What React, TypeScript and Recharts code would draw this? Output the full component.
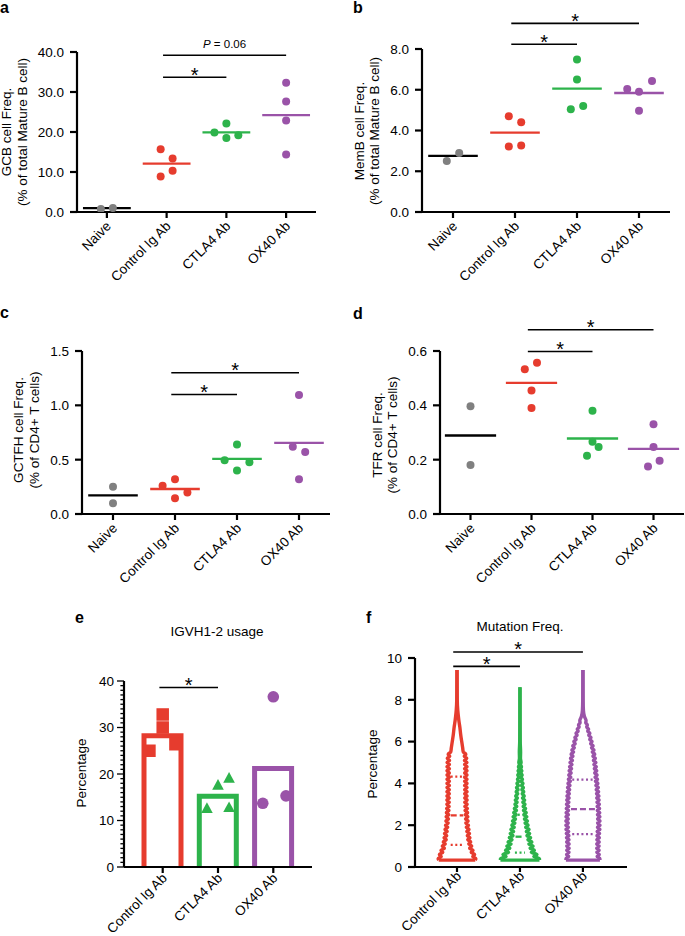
import React from 'react';
import { ComposedChart, Scatter, XAxis, YAxis, ReferenceLine, ReferenceDot, Bar, Area } from 'recharts';

const FONT = '"Liberation Sans", Arial, Helvetica, sans-serif';
const RED = '#e63c2e';
const GREEN = '#2db34b';
const PURPLE = '#9a53a8';
const GRAY = '#808080';

// ---------- categories ----------
const groups4 = ['Naive', 'Control Ig Ab', 'CTLA4 Ab', 'OX40 Ab'];
const groups3 = ['Control Ig Ab', 'CTLA4 Ab', 'OX40 Ab'];

// ---------- panel a : GCB ----------
const gcbNaive = [0.75, 1.0];
const gcbControl = [15.7, 13.4, 10.3, 8.85];
const gcbCtla4 = [19.9, 22.1, 18.5, 19.2];
const gcbOx40 = [32.3, 27.6, 22.9, 14.4];
const gcbMeans = [0.95, 12.1, 19.9, 24.2];
const gcbTicks = [0, 10, 20, 30, 40];
const gcbSig = [
  { from: 1, to: 2, y: 33.7, label: '*' },
  { from: 1, to: 3, y: 39.2, label: 'P = 0.06' },
];

// ---------- panel b : MemB ----------
const membNaive = [2.5, 2.9];
const membControl = [4.7, 4.4, 3.22, 3.26];
const membCtla4 = [7.48, 6.5, 5.04, 5.2];
const membOx40 = [6.04, 5.9, 6.43, 4.97];
const membMeans = [2.75, 3.9, 6.06, 5.84];
const membTicks = [0, 2, 4, 6, 8];
const membSig = [
  { from: 1, to: 2, y: 8.23, label: '*' },
  { from: 1, to: 3, y: 9.26, label: '*' },
];

// ---------- panel c : GCTFH ----------
const gctfhNaive = [0.25, 0.1];
const gctfhControl = [0.26, 0.32, 0.145, 0.197];
const gctfhCtla4 = [0.495, 0.64, 0.4, 0.477];
const gctfhOx40 = [1.094, 0.62, 0.57, 0.32];
const gctfhMeans = [0.172, 0.23, 0.507, 0.655];
const gctfhTicks = [0, 0.5, 1.0, 1.5];
const gctfhSig = [
  { from: 1, to: 2, y: 1.1, label: '*' },
  { from: 1, to: 3, y: 1.3, label: '*' },
];

// ---------- panel d : TFR ----------
const tfrNaive = [0.397, 0.18];
const tfrControl = [0.533, 0.557, 0.455, 0.39];
const tfrCtla4 = [0.38, 0.266, 0.247, 0.214];
const tfrOx40 = [0.33, 0.247, 0.196, 0.175];
const tfrMeans = [0.289, 0.483, 0.278, 0.24];
const tfrTicks = [0, 0.2, 0.4, 0.6];
const tfrSig = [
  { from: 1, to: 2, y: 0.598, label: '*' },
  { from: 1, to: 3, y: 0.678, label: '*' },
];

// ---------- panel e : IGVH1-2 usage ----------
const usageBars = [28.2, 15.2, 21.2];
const usageControl = [32.8, 30.0, 26.4, 25.0];
const usageCtla4 = [12.7, 17.7, 19.2, 12.9];
const usageOx40 = [36.6, 13.7, 15.3];
const usageTicks = [0, 10, 20, 30, 40];
const usageSig = [{ from: 0, to: 1, y: 38.6, label: '*' }];

// ---------- panel f : Mutation frequency (violin profiles: [percentage, half width]) ----------
const violinControl = [
  [0.33, 0.29], [0.4, 0.3], [0.5, 0.25], [0.6, 0.28], [0.7, 0.225], [0.8, 0.255], [0.9, 0.2], [1.0, 0.234],
  [1.1, 0.186], [1.2, 0.218], [1.3, 0.17], [1.4, 0.206], [1.5, 0.163], [1.6, 0.199], [1.7, 0.155], [1.8, 0.191],
  [1.9, 0.147], [2.0, 0.183], [2.1, 0.139], [2.2, 0.177], [2.3, 0.135], [2.4, 0.173], [2.5, 0.131], [2.6, 0.169],
  [2.7, 0.127], [2.8, 0.165], [2.9, 0.124], [3.0, 0.162], [3.1, 0.122], [3.2, 0.162], [3.3, 0.122], [3.4, 0.161],
  [3.5, 0.121], [3.6, 0.161], [3.7, 0.121], [3.8, 0.16], [3.9, 0.12], [4.0, 0.16], [4.1, 0.12], [4.2, 0.16],
  [4.3, 0.12], [4.4, 0.16], [4.5, 0.12], [4.6, 0.16], [4.7, 0.12], [4.8, 0.16], [4.9, 0.12], [5.0, 0.158],
  [5.1, 0.118], [5.2, 0.155], [5.3, 0.115], [5.4, 0.14], [5.5, 0.1], [5.7, 0.09], [6.0, 0.075], [6.3, 0.06],
  [6.7, 0.045], [7.0, 0.03], [7.2, 0.022], [7.5, 0.012], [8.0, 0.004], [9.43, 0],
];
const violinCtla4 = [
  [0.33, 0.31], [0.4, 0.31], [0.5, 0.22], [0.6, 0.27], [0.7, 0.18], [0.8, 0.23], [0.9, 0.16], [1.0, 0.21],
  [1.1, 0.14], [1.2, 0.19], [1.3, 0.125], [1.4, 0.17], [1.5, 0.11], [1.6, 0.155], [1.7, 0.1], [1.8, 0.145],
  [1.9, 0.09], [2.0, 0.13], [2.1, 0.08], [2.2, 0.12], [2.3, 0.07], [2.4, 0.11], [2.5, 0.06], [2.6, 0.1],
  [2.7, 0.055], [2.8, 0.09], [2.9, 0.05], [3.0, 0.08], [3.1, 0.045], [3.2, 0.075], [3.3, 0.04], [3.4, 0.068],
  [3.5, 0.035], [3.6, 0.06], [3.7, 0.03], [3.8, 0.055], [3.9, 0.025], [4.0, 0.048], [4.1, 0.02], [4.2, 0.04],
  [4.3, 0.015], [4.4, 0.035], [4.5, 0.012], [4.6, 0.03], [4.7, 0.01], [4.8, 0.024], [4.9, 0.008], [5.0, 0.018],
  [5.2, 0.008], [5.5, 0.01], [6.0, 0.004], [7.0, 0.002], [8.6, 0],
];
const violinOx40 = [
  [0.33, 0.27], [0.4, 0.27], [0.5, 0.225], [0.6, 0.26], [0.7, 0.22], [0.8, 0.258], [0.9, 0.218], [1.0, 0.258],
  [1.1, 0.218], [1.2, 0.26], [1.3, 0.22], [1.4, 0.262], [1.5, 0.222], [1.6, 0.265], [1.7, 0.225], [1.8, 0.27],
  [1.9, 0.23], [2.0, 0.272], [2.1, 0.232], [2.2, 0.272], [2.3, 0.232], [2.4, 0.27], [2.5, 0.23], [2.6, 0.268],
  [2.7, 0.228], [2.8, 0.265], [2.9, 0.225], [3.0, 0.262], [3.1, 0.222], [3.2, 0.258], [3.3, 0.218], [3.4, 0.255],
  [3.5, 0.215], [3.6, 0.25], [3.7, 0.21], [3.8, 0.245], [3.9, 0.205], [4.0, 0.238], [4.1, 0.198], [4.2, 0.232],
  [4.3, 0.192], [4.4, 0.226], [4.5, 0.186], [4.6, 0.22], [4.7, 0.18], [4.8, 0.213], [4.9, 0.173], [5.0, 0.206],
  [5.1, 0.166], [5.2, 0.198], [5.3, 0.158], [5.4, 0.188], [5.5, 0.148], [5.6, 0.176], [5.7, 0.136], [5.8, 0.162],
  [5.9, 0.122], [6.0, 0.145], [6.1, 0.108], [6.2, 0.128], [6.3, 0.092], [6.4, 0.11], [6.5, 0.076], [6.6, 0.09],
  [6.7, 0.06], [6.8, 0.07], [6.9, 0.045], [7.0, 0.05], [7.2, 0.024], [7.5, 0.008], [8.0, 0.003], [9.43, 0],
];
// quartiles: [lower, median, upper] and the half width of each drawn line
const quartControl = [1.06, 2.47, 4.32];
const quartCtla4 = [0.69, 1.45, 2.5];
const quartOx40 = [1.57, 2.77, 4.18];
const quartHalfControl = [0.1, 0.1, 0.1];
const quartHalfCtla4 = [0.08, 0.07, 0.035];
const quartHalfOx40 = [0.17, 0.19, 0.17];
const mutTicks = [0, 2, 4, 6, 8, 10];
const mutSig = [
  { from: 0, to: 1, y: 9.6, label: '*' },
  { from: 0, to: 2, y: 10.29, label: '*' },
];

// ---------- layout / style constants ----------
const AXIS = { stroke: '#000', strokeWidth: 2.2 };
const colors4 = [GRAY, RED, GREEN, PURPLE];
const meanColors4 = ['#000', RED, GREEN, PURPLE];
const colors3 = [RED, GREEN, PURPLE];
const jitterA = [[-0.1, 0.1], [-0.1, 0.1, 0.1, -0.1], [-0.2, 0, 0, 0.2], [0, 0, 0, 0]];
const jitterB = [[-0.1, 0.1], [-0.1, 0.1, -0.1, 0.1], [0, 0, -0.1, 0.1], [-0.19, 0, 0.21, 0]];
const jitterC = [[0, 0], [-0.2, 0, 0, 0.2], [-0.2, 0, 0, 0.2], [0, -0.1, 0.1, 0]];
const jitterD = [[0, 0], [-0.11, 0.09, 0, 0], [0, 0, 0.1, -0.09], [0, 0, 0.1, -0.09]];
const jitterE = [[0, 0, 0.23, -0.24], [-0.2, 0, 0.2, 0.2], [0, -0.19, 0.23]];
const E_BAR_WIDTH = 37;

const XTick = (props: any) => {
  const { x, y, payload, labels, dy = 9 } = props;
  const ax = x + 5;
  const ay = y + dy;
  return (
    <text x={ax} y={ay} transform={`rotate(-45 ${ax} ${ay})`} textAnchor="end" fontSize={13.5} fontFamily={FONT} fill="#000">
      {labels[payload.value]}
    </text>
  );
};

const YTick = (props: any) => {
  const { x, y, payload, digits } = props;
  const v = Number(payload.value);
  return (
    <text x={x - 6} y={y} dy="0.36em" textAnchor="end" fontSize={13.5} fontFamily={FONT} fill="#000">
      {digits != null ? v.toFixed(digits) : String(v)}
    </text>
  );
};

const EYTick = (props: any) => {
  const { x, y, payload } = props;
  const v = Number(payload.value);
  const major = v % 10 === 0;
  return (
    <g>
      <line x1={x} x2={x - (major ? 7 : 3.6)} y1={y} y2={y} stroke="#000" strokeWidth={1.3} />
      {major && (
        <text x={x - 10} y={y} dy="0.36em" textAnchor="end" fontSize={13.5} fontFamily={FONT} fill="#000">
          {v}
        </text>
      )}
    </g>
  );
};

const sigShape = (label: string) => (p: any) => {
  if (label === '*') {
    return (
      <text x={p.cx} y={p.cy + 4.5} textAnchor="middle" fontSize={20} fontFamily={FONT} fill="#000">
        *
      </text>
    );
  }
  const parts = label.split(' ');
  return (
    <text x={p.cx} y={p.cy - 7} textAnchor="middle" fontSize={11.5} fontFamily={FONT} fill="#000">
      <tspan fontStyle="italic">{parts[0]}</tspan>
      {' ' + parts.slice(1).join(' ')}
    </text>
  );
};

const renderSig = (sig: any[], prefix: string) =>
  sig.flatMap((s, i) => [
    <ReferenceLine
      key={prefix + 'l' + i}
      segment={[{ x: s.from - 0.06, y: s.y }, { x: s.to, y: s.y }]}
      stroke="#000"
      strokeWidth={1.6}
      ifOverflow="visible"
    />,
    <ReferenceDot
      key={prefix + 'd' + i}
      x={(s.from - 0.06 + s.to) / 2}
      y={s.y}
      r={0}
      ifOverflow="visible"
      shape={sigShape(s.label)}
    />,
  ]);

const circleShape = (r: number, color: string) => (p: any) => <circle cx={p.cx} cy={p.cy} r={r} fill={color} />;

type DotPanelProps = {
  left: number; top: number; width: number; height: number;
  marginTop: number; marginRight: number; yAxisWidth: number; xAxisHeight: number;
  domain: [number, number]; ticks: number[]; groups: number[][]; means: number[];
  jitter: number[][]; sig: any[]; meanHalf: number;
};

function DotPanel(props: DotPanelProps) {
  const { left, top, width, height, marginTop, marginRight, yAxisWidth, xAxisHeight, domain, ticks, groups, means, jitter, sig, meanHalf } = props;
  const series = groups.map((vals, gi) => vals.map((v, k) => ({ x: gi + jitter[gi][k], y: v })));
  return (
    <div style={{ position: 'absolute', left, top }}>
      <ComposedChart width={width} height={height} margin={{ top: marginTop, right: marginRight, bottom: 0, left: 0 }}>
        <XAxis
          type="number" dataKey="x" domain={[-0.5, 3.5]} ticks={[0, 1, 2, 3]} interval={0} allowDataOverflow
          axisLine={AXIS} tickLine={AXIS} tickSize={6} tickMargin={0} height={xAxisHeight}
          tick={<XTick labels={groups4} />}
        />
        <YAxis
          type="number" dataKey="y" domain={domain} ticks={ticks} interval={0} allowDataOverflow width={yAxisWidth}
          axisLine={AXIS} tickLine={AXIS} tickSize={7} tickMargin={0} tick={<YTick digits={1} />}
        />
        {series.map((pts, gi) => (
          <Scatter key={'s' + gi} data={pts} fill={colors4[gi]} shape={circleShape(4, colors4[gi])} isAnimationActive={false} />
        ))}
        {means.map((m, gi) => (
          <ReferenceLine
            key={'m' + gi}
            segment={[{ x: gi - meanHalf, y: m }, { x: gi + meanHalf, y: m }]}
            stroke={meanColors4[gi]}
            strokeWidth={2.3}
            ifOverflow="visible"
          />
        ))}
        {renderSig(sig, 'g')}
      </ComposedChart>
    </div>
  );
}

function UsagePanel() {
  const barRows = groups3.map((g, i) => ({ x: i, v: usageBars[i], name: g }));
  const sets = [usageControl, usageCtla4, usageOx40].map((vals, gi) => vals.map((v, k) => ({ x: gi + jitterE[gi][k], y: v })));
  const minor = Array.from({ length: 41 }, (_, i) => i);
  const barShape = (p: any) => {
    const { x, y, width, height, index } = p;
    const cx = x + width / 2;
    const l = cx - E_BAR_WIDTH / 2;
    const r = cx + E_BAR_WIDTH / 2;
    return (
      <path
        d={`M${l},${y + height + 2} L${l},${y} L${r},${y} L${r},${y + height + 2}`}
        fill="none"
        stroke={colors3[index]}
        strokeWidth={5}
      />
    );
  };
  const square = (p: any) => <rect x={p.cx - 6.25} y={p.cy - 6.25} width={12.5} height={12.5} fill={RED} />;
  const tri = (p: any) => <path d={`M${p.cx},${p.cy - 5.6} L${p.cx + 5.8},${p.cy + 5} L${p.cx - 5.8},${p.cy + 5} Z`} fill={GREEN} />;
  return (
    <div style={{ position: 'absolute', left: 0, top: 600 }}>
      <ComposedChart width={340} height={336} data={barRows} margin={{ top: 81, right: 28, bottom: 0, left: 0 }}>
        <XAxis
          type="number" dataKey="x" domain={[-0.7, 2.7]} ticks={[0, 1, 2]} interval={0} allowDataOverflow
          axisLine={AXIS} tickLine={AXIS} tickSize={6} tickMargin={0} height={69}
          tick={<XTick labels={groups3} dy={6} />}
        />
        <YAxis
          type="number" dataKey="y" domain={[0, 40]} ticks={minor} interval={0} allowDataOverflow width={124}
          axisLine={AXIS} tickLine={false} tickSize={0} tickMargin={0} tick={<EYTick />}
        />
        <Bar dataKey="v" shape={barShape} isAnimationActive={false} />
        <Scatter data={sets[0]} fill={RED} shape={square} isAnimationActive={false} />
        <Scatter data={sets[1]} fill={GREEN} shape={tri} isAnimationActive={false} />
        <Scatter data={sets[2]} fill={PURPLE} shape={circleShape(5.8, PURPLE)} isAnimationActive={false} />
        {renderSig(usageSig, 'e')}
      </ComposedChart>
    </div>
  );
}

function MutationPanel() {
  const profiles = [violinControl, violinCtla4, violinOx40];
  const quarts = [quartControl, quartCtla4, quartOx40];
  const qHalf = [quartHalfControl, quartHalfCtla4, quartHalfOx40];
  return (
    <div style={{ position: 'absolute', left: 340, top: 600 }}>
      <ComposedChart layout="vertical" width={345} height={336} margin={{ top: 58, right: 58, bottom: 0, left: 0 }}>
        <XAxis
          type="number" domain={[-0.667, 2.7]} ticks={[0, 1, 2]} interval={0} allowDataOverflow
          axisLine={AXIS} tickLine={AXIS} tickSize={5} tickMargin={0} height={69}
          tick={<XTick labels={groups3} dy={5} />}
        />
        <YAxis
          type="number" dataKey="y" domain={[0, 10]} ticks={mutTicks} interval={0} allowDataOverflow width={75} reversed
          axisLine={AXIS} tickLine={AXIS} tickSize={7} tickMargin={0} tick={<YTick />}
        />
        {profiles.map((prof, gi) => (
          <Area
            key={'v' + gi}
            data={prof.map(([y, hw]) => ({ y, r: [gi - hw, gi + hw] }))}
            dataKey="r"
            type="monotone"
            stroke={colors3[gi]}
            strokeWidth={3.4}
            fill="#fff"
            fillOpacity={1}
            dot={false}
            activeDot={false}
            isAnimationActive={false}
          />
        ))}
        {profiles.map((prof, gi) => (
          <ReferenceLine
            key={'b' + gi}
            segment={[{ x: gi - prof[0][1], y: prof[0][0] }, { x: gi + prof[0][1], y: prof[0][0] }]}
            stroke={colors3[gi]}
            strokeWidth={3.4}
            ifOverflow="visible"
          />
        ))}
        {quarts.flatMap((q, gi) =>
          q.map((v, k) => (
            <ReferenceLine
              key={'q' + gi + k}
              segment={[{ x: gi - qHalf[gi][k], y: v }, { x: gi + qHalf[gi][k], y: v }]}
              stroke={colors3[gi]}
              strokeWidth={2.3}
              strokeDasharray={k === 1 ? '6 3' : '2 2.6'}
              ifOverflow="visible"
            />
          ))
        )}
        {renderSig(mutSig, 'f')}
      </ComposedChart>
    </div>
  );
}

function Overlay() {
  const t = { fontFamily: FONT, fill: '#000' };
  const vlabel = (x: number, y: number, s: string, key: string) => (
    <text key={key} x={x} y={y} transform={`rotate(-90 ${x} ${y})`} textAnchor="middle" fontSize={13.5} {...t}>
      {s}
    </text>
  );
  return (
    <svg width={685} height={936} style={{ position: 'absolute', left: 0, top: 0, pointerEvents: 'none' }}>
      <text x={0} y={13} fontSize={16} fontWeight="bold" {...t}>a</text>
      <text x={353} y={13} fontSize={16} fontWeight="bold" {...t}>b</text>
      <text x={0} y={318} fontSize={16} fontWeight="bold" {...t}>c</text>
      <text x={353} y={319} fontSize={16} fontWeight="bold" {...t}>d</text>
      <text x={75} y={623} fontSize={16} fontWeight="bold" {...t}>e</text>
      <text x={366} y={623} fontSize={16} fontWeight="bold" {...t}>f</text>
      {vlabel(11, 132, 'GCB cell Freq.', 'a1')}
      {vlabel(27, 132, '(% of total Mature B cell)', 'a2')}
      {vlabel(364, 131, 'MemB cell Freq.', 'b1')}
      {vlabel(379, 131, '(% of total Mature B cell)', 'b2')}
      {vlabel(23, 430, 'GCTFH cell Freq.', 'c1')}
      {vlabel(39, 430, '(% of CD4+ T cells)', 'c2')}
      {vlabel(382, 435, 'TFR cell Freq.', 'd1')}
      {vlabel(397, 435, '(% of CD4+ T cells)', 'd2')}
      {vlabel(86, 773, 'Percentage', 'e1')}
      {vlabel(377, 764, 'Percentage', 'f1')}
      <text x={217} y={636} textAnchor="middle" fontSize={13.5} {...t}>IGVH1-2 usage</text>
      <text x={520} y={631} textAnchor="middle" fontSize={13.5} {...t}>Mutation Freq.</text>
    </svg>
  );
}

export default function App() {
  return (
    <div style={{ position: 'absolute', left: 0, top: 0, width: 685, height: 936, background: '#fff', fontFamily: FONT }}>
      <DotPanel
        left={0} top={0} width={340} height={300} marginTop={52} marginRight={24} yAxisWidth={77} xAxisHeight={88}
        domain={[0, 40]} ticks={gcbTicks} groups={[gcbNaive, gcbControl, gcbCtla4, gcbOx40]} means={gcbMeans}
        jitter={jitterA} sig={gcbSig} meanHalf={0.4}
      />
      <DotPanel
        left={340} top={0} width={345} height={300} marginTop={49} marginRight={15} yAxisWidth={82} xAxisHeight={88}
        domain={[0, 8]} ticks={membTicks} groups={[membNaive, membControl, membCtla4, membOx40]} means={membMeans}
        jitter={jitterB} sig={membSig} meanHalf={0.4}
      />
      <DotPanel
        left={0} top={300} width={340} height={300} marginTop={51} marginRight={10} yAxisWidth={82} xAxisHeight={86}
        domain={[0, 1.5]} ticks={gctfhTicks} groups={[gctfhNaive, gctfhControl, gctfhCtla4, gctfhOx40]} means={gctfhMeans}
        jitter={jitterC} sig={gctfhSig} meanHalf={0.4}
      />
      <DotPanel
        left={340} top={300} width={345} height={300} marginTop={51} marginRight={1} yAxisWidth={100} xAxisHeight={86}
        domain={[0, 0.6]} ticks={tfrTicks} groups={[tfrNaive, tfrControl, tfrCtla4, tfrOx40]} means={tfrMeans}
        jitter={jitterD} sig={tfrSig} meanHalf={0.42}
      />
      <UsagePanel />
      <MutationPanel />
      <Overlay />
    </div>
  );
}
